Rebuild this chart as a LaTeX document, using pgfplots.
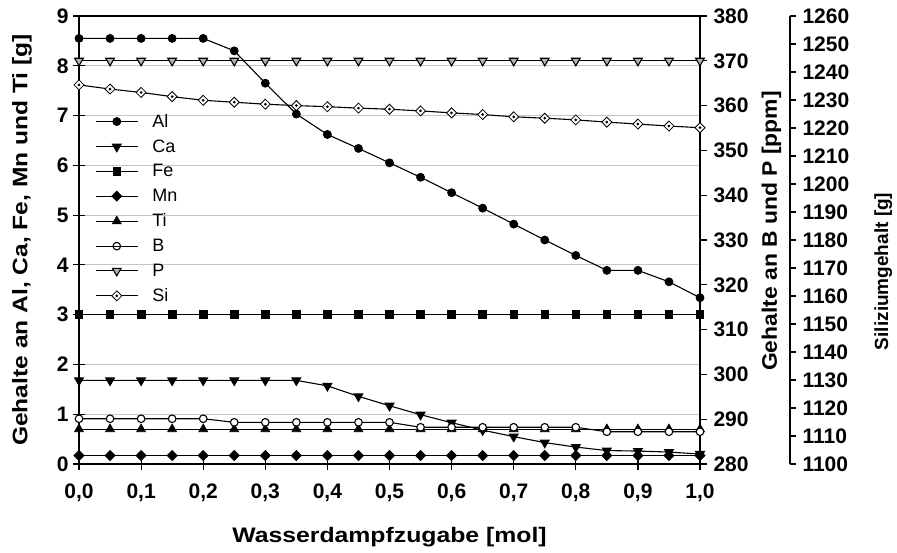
\documentclass[border=0pt]{standalone}
\usepackage{fontspec}
\setmainfont{Liberation Sans}
\newfontfamily\lblX[FakeStretch=1.18]{Liberation Sans}
\newfontfamily\lblL[FakeStretch=1.17]{Liberation Sans}
\newfontfamily\lblR[FakeStretch=1.09]{Liberation Sans}
\usepackage{pgfplots}
\pgfplotsset{compat=1.18}

\newcommand\tkfont{\fontsize{21}{21}\selectfont\bfseries}

\makeatletter
\pgfdeclareplotmark{sqdiamond*}{%
  \pgfpathmoveto{\pgfqpoint{0pt}{\pgfplotmarksize}}%
  \pgfpathlineto{\pgfqpoint{\pgfplotmarksize}{0pt}}%
  \pgfpathlineto{\pgfqpoint{0pt}{-\pgfplotmarksize}}%
  \pgfpathlineto{\pgfqpoint{-\pgfplotmarksize}{0pt}}%
  \pgfpathclose
  \pgfusepathqfillstroke
}
\pgfdeclareplotmark{dotdiamond}{%
  \pgfpathmoveto{\pgfqpoint{0pt}{\pgfplotmarksize}}%
  \pgfpathlineto{\pgfqpoint{\pgfplotmarksize}{0pt}}%
  \pgfpathlineto{\pgfqpoint{0pt}{-\pgfplotmarksize}}%
  \pgfpathlineto{\pgfqpoint{-\pgfplotmarksize}{0pt}}%
  \pgfpathclose
  \pgfsetfillcolor{white}%
  \pgfusepathqfillstroke
  \pgfpathcircle{\pgfpointorigin}{0.3\pgfplotmarksize}%
  \pgfsetfillcolor{black}%
  \pgfusepathqfill
}
\makeatother

\pgfplotstableread{
x     Al    Ca    Fe   Mn    Ti    B      P    Si
0.00  8.55  1.68  3.0  0.17  0.70  290.1  370  1235.4
0.05  8.55  1.68  3.0  0.17  0.70  290.1  370  1233.9
0.10  8.55  1.68  3.0  0.17  0.70  290.1  370  1232.7
0.15  8.55  1.68  3.0  0.17  0.70  290.1  370  1231.2
0.20  8.55  1.68  3.0  0.17  0.70  290.1  370  1229.9
0.25  8.30  1.68  3.0  0.17  0.70  289.3  370  1229.2
0.30  7.65  1.68  3.0  0.17  0.70  289.3  370  1228.5
0.35  7.03  1.68  3.0  0.17  0.70  289.3  370  1228.0
0.40  6.62  1.57  3.0  0.17  0.70  289.3  370  1227.6
0.45  6.34  1.36  3.0  0.17  0.70  289.3  370  1227.1
0.50  6.05  1.17  3.0  0.17  0.70  289.3  370  1226.7
0.55  5.76  0.99  3.0  0.17  0.70  288.2  370  1226.1
0.60  5.45  0.83  3.0  0.17  0.70  288.2  370  1225.4
0.65  5.14  0.68  3.0  0.17  0.70  288.2  370  1224.8
0.70  4.82  0.55  3.0  0.17  0.70  288.2  370  1224.0
0.75  4.50  0.43  3.0  0.17  0.70  288.2  370  1223.5
0.80  4.19  0.34  3.0  0.17  0.70  288.2  370  1222.9
0.85  3.89  0.27  3.0  0.17  0.70  287.2  370  1222.1
0.90  3.89  0.26  3.0  0.17  0.70  287.2  370  1221.4
0.95  3.66  0.24  3.0  0.17  0.70  287.2  370  1220.7
1.00  3.34  0.20  3.0  0.17  0.70  287.2  370  1220.1
}\datatable

\pgfplotsset{
  base/.style={
    at={(79pt,88pt)}, anchor=south west,
    scale only axis, width=621pt, height=448pt,
    xmin=0, xmax=1,
    /pgf/number format/assume math mode=true,
    /pgf/number format/1000 sep={},
    axis line style={line width=1.3pt},
    every tick/.style={black, line width=1.2pt},
    ticklabel style={font=\tkfont},
    legend image code/.code={\draw[mark repeat=2,mark phase=2] plot coordinates {(0pt,0pt) (21pt,0pt) (42pt,0pt)};},
  },
  ser/.style={black, line width=1.1pt, mark options={solid, line width=0.8pt}},
}

\begin{document}
\begin{tikzpicture}
\useasboundingbox (0,0) rectangle (897pt,552pt);

% left axis
\begin{axis}[base,
  ymin=0, ymax=9,
  ytick={0,1,...,9},
  xtick={0,0.1,0.2,0.3,0.4,0.5,0.6,0.7,0.8,0.9,1.0},
  xticklabels={{0,0},{0,1},{0,2},{0,3},{0,4},{0,5},{0,6},{0,7},{0,8},{0,9},{1,0}},
  xtick pos=bottom, ytick pos=left,
  tick align=center, major tick length=12pt,
  ymajorgrids, grid style={gray!45, line width=0.9pt},
  xticklabel style={yshift=-10pt},
  yticklabel style={xshift=-1pt},
  xlabel={Wasserdampfzugabe [mol]},
  xlabel style={font=\lblX\fontsize{21}{21}\selectfont\bfseries, at={(axis description cs:0.5,-0.163)}, anchor=center},
  ylabel={Gehalte an Al, Ca, Fe, Mn und Ti [g]},
  ylabel style={font=\lblL\fontsize{21}{21}\selectfont\bfseries, at={(axis description cs:-0.092,0.5)}, anchor=center},
  legend style={draw=none, fill=none, font=\fontsize{18}{18}\selectfont,
    at={(axis description cs:0.021,0.79)}, anchor=north west,
    row sep=6.8pt, legend cell align=left,
    /tikz/every odd column/.append style={column sep=12pt}},
]
\addplot[ser, mark=*, mark size=4pt] table[x=x,y=Al] {\datatable};
\addlegendentry{Al}
\addplot[ser, mark=triangle*, mark size=5pt, mark options={rotate=180}] table[x=x,y=Ca] {\datatable};
\addlegendentry{Ca}
\addplot[ser, mark=square*, mark size=3.8pt] table[x=x,y=Fe] {\datatable};
\addlegendentry{Fe}
\addplot[ser, mark=sqdiamond*, mark size=5pt] table[x=x,y=Mn] {\datatable};
\addlegendentry{Mn}
\addplot[ser, mark=triangle*, mark size=5pt] table[x=x,y=Ti] {\datatable};
\addlegendentry{Ti}
\addlegendimage{ser, mark=o, mark size=3.8pt, mark options={fill=white}}
\addlegendentry{B}
\addlegendimage{ser, mark=triangle*, mark size=5pt, mark options={rotate=180, fill=gray!60}}
\addlegendentry{P}
\addlegendimage{ser, mark=dotdiamond, mark size=5pt}
\addlegendentry{Si}
\end{axis}

% right axis B and P
\begin{axis}[base,
  ymin=280, ymax=380,
  ytick={280,290,...,380},
  axis y line*=right, axis x line=none,
  tick align=outside, major tick length=7pt,
  yticklabel style={xshift=3pt},
  ylabel={Gehalte an B und P [ppm]},
  ylabel style={font=\lblR\fontsize{21}{21}\selectfont\bfseries, at={(axis description cs:1.115,0.52)}, anchor=center},
]
\addplot[ser, mark=*, mark size=3.8pt, mark options={fill=white}] table[x=x,y=B] {\datatable};
\addplot[ser, mark=triangle*, mark size=5pt, mark options={rotate=180, fill=gray!60}] table[x=x,y=P] {\datatable};
\end{axis}

% Si axis
\begin{axis}[base,
  ymin=1100, ymax=1260,
  ytick={1100,1110,...,1260},
  axis y line*=right, axis x line=none,
  tick align=outside, major tick length=6pt,
  y axis line style={xshift=90pt},
  ytick style={xshift=90pt},
  yticklabel style={xshift=93pt},
  ylabel={Siliziumgehalt [g]},
  ylabel style={font=\fontsize{19}{19}\selectfont\bfseries, at={(axis description cs:1.295,0.43)}, anchor=center},
]
\addplot[ser, mark=dotdiamond, mark size=5pt] table[x=x,y=Si] {\datatable};
\end{axis}
\end{tikzpicture}
\end{document}
